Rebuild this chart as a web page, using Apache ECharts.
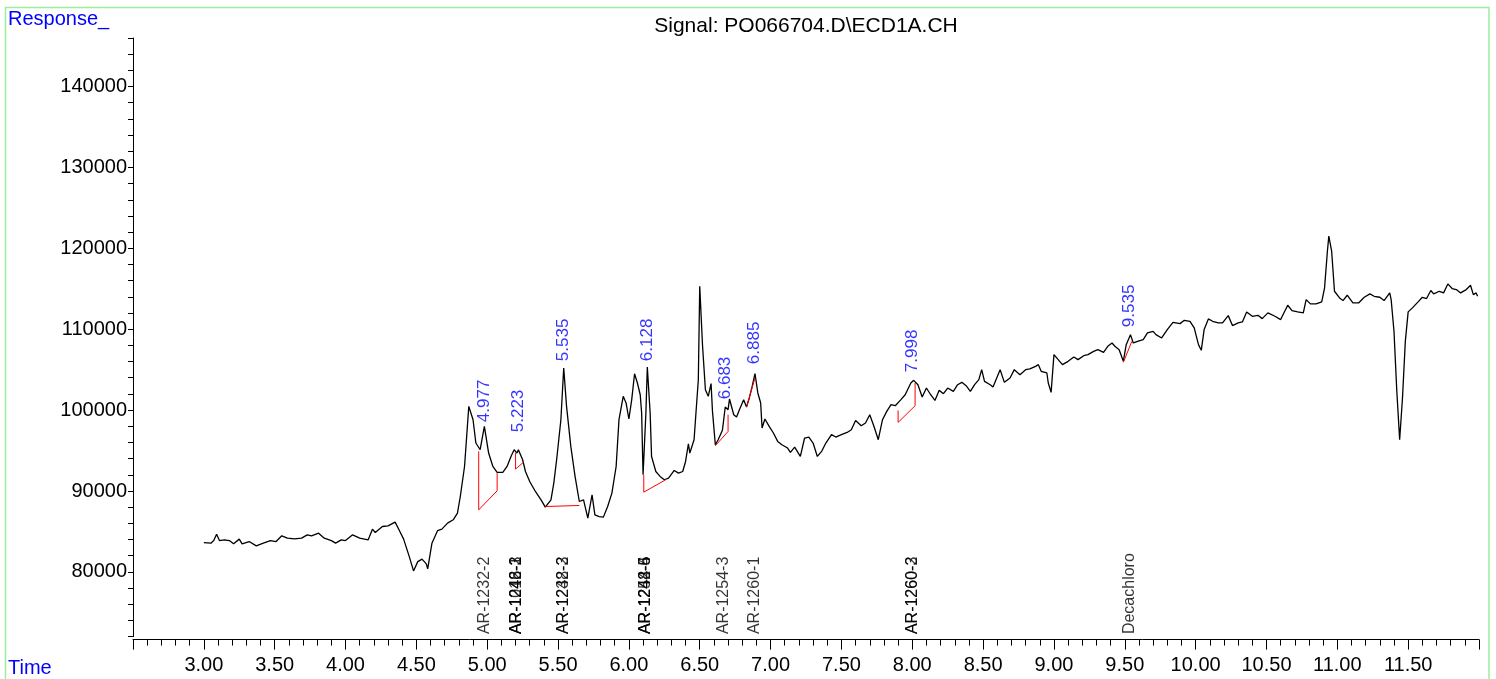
<!DOCTYPE html>
<html>
<head>
<meta charset="utf-8">
<title>Signal: PO066704.D\ECD1A.CH</title>
<script src="https://cdn.jsdelivr.net/npm/echarts@6/dist/echarts.min.js"></script>
<style>
  html, body { margin: 0; padding: 0; background: #fff; }
  #chart { width: 1496px; height: 679px; }
</style>
</head>
<body>
<div id="chart"></div>
<script>
// retention time (min) and detector response of the trace
const rt = [
  3.00, 3.05, 3.07, 3.09, 3.11, 3.145, 3.18, 3.21, 3.25, 3.27, 3.32, 3.37, 3.42, 3.47, 3.51, 3.55, 3.59, 3.64, 3.69, 3.73,
  3.76, 3.81, 3.85, 3.90, 3.93, 3.97, 4.00, 4.05, 4.10, 4.16, 4.19, 4.21, 4.26, 4.30, 4.35, 4.38, 4.41, 4.45, 4.48, 4.51,
  4.54, 4.57, 4.58, 4.61, 4.65, 4.68, 4.72, 4.76, 4.79, 4.81, 4.84, 4.87, 4.90, 4.92, 4.95, 4.98, 5.01, 5.04, 5.07, 5.11,
  5.14, 5.17, 5.19, 5.21, 5.22, 5.25, 5.27, 5.30, 5.34, 5.38, 5.41, 5.45, 5.47, 5.49, 5.52, 5.54, 5.56, 5.59, 5.62, 5.65,
  5.68, 5.71, 5.74, 5.76, 5.79, 5.82, 5.85, 5.88, 5.91, 5.93, 5.96, 5.98, 6.00, 6.02, 6.04, 6.06, 6.08, 6.09, 6.10, 6.12,
  6.13, 6.15, 6.16, 6.19, 6.22, 6.25, 6.28, 6.32, 6.35, 6.38, 6.40, 6.42, 6.43, 6.46, 6.47, 6.49, 6.50, 6.52, 6.54, 6.56,
  6.58, 6.59, 6.61, 6.63, 6.66, 6.68, 6.70, 6.71, 6.74, 6.76, 6.78, 6.81, 6.83, 6.85, 6.87, 6.89, 6.91, 6.93, 6.94, 6.96,
  6.99, 7.02, 7.05, 7.08, 7.12, 7.14, 7.17, 7.21, 7.24, 7.27, 7.30, 7.33, 7.36, 7.39, 7.43, 7.46, 7.50, 7.54, 7.57, 7.60,
  7.64, 7.67, 7.70, 7.73, 7.76, 7.79, 7.82, 7.85, 7.88, 7.92, 7.95, 7.99, 8.01, 8.04, 8.07, 8.10, 8.13, 8.16, 8.19, 8.22,
  8.25, 8.29, 8.32, 8.35, 8.38, 8.41, 8.44, 8.47, 8.49, 8.51, 8.55, 8.57, 8.62, 8.65, 8.69, 8.72, 8.76, 8.80, 8.83, 8.87,
  8.89, 8.91, 8.95, 8.96, 8.98, 9.00, 9.03, 9.06, 9.10, 9.14, 9.17, 9.21, 9.24, 9.28, 9.31, 9.35, 9.38, 9.41, 9.43, 9.46,
  9.49, 9.51, 9.54, 9.56, 9.59, 9.63, 9.66, 9.70, 9.72, 9.76, 9.80, 9.84, 9.89, 9.92, 9.96, 9.99, 10.02, 10.04, 10.06, 10.09,
  10.12, 10.16, 10.19, 10.23, 10.26, 10.30, 10.33, 10.36, 10.40, 10.44, 10.47, 10.51, 10.56, 10.60, 10.65, 10.68, 10.72, 10.76, 10.78, 10.81,
  10.85, 10.89, 10.91, 10.93, 10.94, 10.96, 10.98, 11.02, 11.04, 11.07, 11.11, 11.15, 11.19, 11.23, 11.26, 11.30, 11.33, 11.37, 11.38, 11.40,
  11.42, 11.44, 11.46, 11.48, 11.50, 11.53, 11.57, 11.60, 11.63, 11.66, 11.68, 11.72, 11.75, 11.78, 11.81, 11.84, 11.87, 11.91, 11.94, 11.96,
  11.98, 11.99
];
const resp = [
  83630, 83550, 83870, 84660, 83870, 83960, 83870, 83470, 84050, 83470, 83750, 83220, 83550, 83870, 83750, 84460, 84170, 84080, 84170, 84580,
  84460, 84790, 84170, 83870, 83550, 83960, 83870, 84580, 84170, 83960, 85280, 84870, 85610, 85690, 86150, 85110, 84050, 81890, 80120, 81270,
  81570, 80990, 80370, 83550, 85110, 85280, 86030, 86440, 87260, 89320, 93030, 100460, 98810, 95930, 95100, 97980, 94690, 93030, 92290, 92290,
  93030, 94360, 95100, 94690, 95100, 93860, 92410, 91180, 89940, 88910, 88010, 88910, 90980, 93860, 98810, 105210, 100460, 95510, 91800, 88700,
  88910, 86650, 89530, 87050, 86840, 86770, 88080, 89740, 93030, 98810, 101700, 100880, 98900, 101290, 104500, 103350, 101900, 99640, 92000, 99640,
  105330, 99640, 94270, 92410, 91800, 91390, 91600, 92540, 92210, 92410, 93650, 95840, 94690, 96340, 98810, 103760, 115310, 107890, 102520, 101700,
  103270, 99840, 95720, 96340, 97500, 100380, 100050, 101370, 99430, 99150, 100050, 101290, 100380, 101500, 102930, 104500, 102120, 100880, 97780, 98900,
  97980, 97170, 96130, 95720, 95310, 94770, 95430, 94270, 96550, 96670, 95930, 94270, 94890, 95930, 96960, 96670, 96960, 97240, 97570, 98720,
  98070, 98400, 99430, 97980, 96340, 98810, 99840, 100670, 100540, 101290, 101900, 103350, 103680, 103140, 101620, 102730, 101900, 101200, 102440, 102030,
  102730, 102310, 103140, 103430, 103020, 102310, 103140, 103760, 105000, 103550, 103140, 102860, 105000, 103430, 103970, 105000, 104380, 105000, 105090, 105410,
  105620, 104790, 104590, 103350, 102190, 106860, 106240, 105620, 106030, 106570, 106240, 106730, 106860, 107260, 107470, 107140, 107890, 108300, 107890, 107470,
  106030, 108090, 109330, 108300, 108500, 108710, 109540, 109740, 109330, 108920, 109950, 110850, 110690, 111100, 110980, 110160, 108090, 107390, 109950, 111270,
  110980, 110780, 110780, 111680, 110450, 110780, 110900, 112140, 111600, 111720, 111310, 112020, 111600, 111190, 112960, 112300, 112140, 112020, 113660, 113130,
  113130, 113380, 115110, 119640, 121500, 119640, 114690, 113790, 113540, 114200, 113250, 113250, 113950, 114370, 114070, 113950, 113540, 114490, 113660, 109740,
  102310, 96340, 101500, 108500, 112140, 112640, 113380, 113950, 113790, 114780, 114370, 114690, 114490, 115600, 115030, 114900, 114490, 114900, 115430, 114280,
  114490, 114070
];

// integrated peaks: retention time and the height where the label sits
const peakRT = [4.977, 5.223, 5.535, 6.128, 6.683, 6.885, 7.998, 9.535];
const peakHeight = [97700, 96460, 105250, 105250, 100540, 104880, 103890, 109450];

// integration baselines (red), one polyline per peak
const baseRT = [
  [4.94, 4.94, 5.07, 5.07],
  [5.20, 5.20, 5.255],
  [5.41, 5.65],
  [6.105, 6.105, 6.26],
  [6.61, 6.70, 6.70],
  [6.83, 6.89],
  [7.90, 7.90, 8.02, 8.02],
  [9.49, 9.55]
];
const baseResp = [
  [94900, 87670, 90020, 92210],
  [94690, 92710, 93530],
  [88080, 88210],
  [92000, 89860, 91390],
  [95590, 97360, 99430],
  [100380, 103970],
  [99960, 98480, 100540, 103350],
  [105910, 108500]
];

// expected retention times of the calibrated compounds
const compoundRT = [4.98, 5.21, 5.21, 5.21, 5.54, 5.54, 6.12, 6.12, 6.12, 6.67, 6.885, 8.00, 8.00, 9.535];
const compoundName = [
  'AR-1232-2', 'AR-1242-3', 'AR-1016-2', 'AR-1248-1', 'AR-1232-3', 'AR-1248-2',
  'AR-1248-5', 'AR-1254-6', 'AR-1242-4', 'AR-1254-3', 'AR-1260-1', 'AR-1260-2', 'AR-1260-3', 'Decachloro'
];

const FONT = 'Liberation Sans, Arial, sans-serif';

const chart = echarts.init(document.getElementById('chart'));

const traceData = rt.map((t, i) => [t, resp[i]]);
const peakData = peakRT.map((t, i) => [t, peakHeight[i], t.toFixed(3)]);
const compoundData = compoundRT.map((t, i) => [t, 72000, compoundName[i]]);

const baselineSeries = baseRT.map((ts, k) => ({
  type: 'line',
  data: ts.map((t, i) => [t, baseResp[k][i]]),
  symbol: 'none',
  silent: true,
  lineStyle: { color: '#ff0000', width: 1 },
  z: 3
}));

chart.setOption({
  animation: false,
  backgroundColor: '#ffffff',
  textStyle: { fontFamily: FONT },
  graphic: [
    {
      type: 'rect',
      shape: { x: 5.5, y: 7.5, width: 1483.5, height: 700 },
      style: { fill: 'none', stroke: '#9cef9c', lineWidth: 1.5 },
      silent: true
    },
    {
      type: 'text', left: 8, top: 9,
      style: { text: 'Response_', fill: '#0000ff', font: '20px ' + FONT }
    },
    {
      type: 'text', left: 8, top: 658,
      style: { text: 'Time', fill: '#0000ff', font: '20px ' + FONT }
    },
    {
      type: 'text', x: 806, y: 26,
      style: { text: 'Signal: PO066704.D\\ECD1A.CH', fill: '#000', font: '21px ' + FONT, align: 'center', verticalAlign: 'middle' }
    }
  ],
  grid: { left: 133, right: 17, top: 38, bottom: 42.4, containLabel: false },
  xAxis: {
    type: 'value',
    min: 2.5,
    max: 12.0,
    interval: 0.5,
    offset: 3,
    axisLine: { show: true, onZero: false, lineStyle: { color: '#000', width: 1 } },
    axisTick: { show: true, length: 10, lineStyle: { color: '#000' } },
    minorTick: { show: true, splitNumber: 5, length: 6, lineStyle: { color: '#000' } },
    splitLine: { show: false },
    minorSplitLine: { show: false },
    axisLabel: {
      color: '#000', fontSize: 20, fontFamily: FONT, margin: 16,
      showMinLabel: true, showMaxLabel: true,
      formatter: v => (v > 2.9 && v < 11.6) ? v.toFixed(2) : ''
    }
  },
  yAxis: {
    type: 'value',
    min: 72000,
    max: 146000,
    interval: 2000,
    axisLine: { show: true, lineStyle: { color: '#000', width: 1 } },
    axisTick: { show: true, length: 5, lineStyle: { color: '#000' } },
    splitLine: { show: false },
    axisLabel: {
      color: '#000', fontSize: 20, fontFamily: FONT, margin: 6,
      formatter: v => (v % 10000 === 0 && v >= 80000 && v <= 140000) ? String(v) : ''
    }
  },
  series: [
    {
      type: 'line',
      data: traceData,
      symbol: 'none',
      silent: true,
      lineStyle: { color: '#000', width: 1.3 },
      z: 2
    },
    ...baselineSeries,
    {
      type: 'scatter',
      data: peakData,
      symbolSize: 1,
      itemStyle: { color: 'transparent' },
      silent: true,
      label: {
        show: true,
        position: 'top',
        distance: 6,
        rotate: 90,
        align: 'left',
        verticalAlign: 'middle',
        color: '#0000ff',
        fontSize: 17,
        fontFamily: FONT,
        formatter: p => p.value[2]
      },
      z: 4
    },
    {
      type: 'scatter',
      data: compoundData,
      symbolSize: 1,
      itemStyle: { color: 'transparent' },
      silent: true,
      label: {
        show: true,
        position: 'top',
        distance: 2,
        rotate: 90,
        align: 'left',
        verticalAlign: 'middle',
        color: '#000',
        fontSize: 16,
        fontFamily: FONT,
        formatter: p => p.value[2]
      },
      z: 4
    }
  ]
});
</script>
</body>
</html>
